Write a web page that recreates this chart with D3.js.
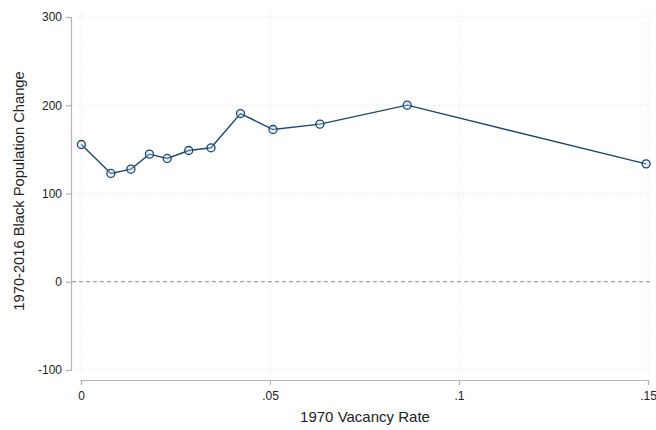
<!DOCTYPE html>
<html>
<head>
<meta charset="utf-8">
<script src="https://cdn.jsdelivr.net/npm/d3@7/dist/d3.min.js"></script>
<style>
  html, body { margin: 0; padding: 0; background: #fff; }
  svg { display: block; font-family: "Liberation Sans", Arial, sans-serif; }
</style>
</head>
<body>
<svg id="chart" width="656" height="430"></svg>
<script>
// Binned 1970 vacancy rate vs. 1970–2016 Black population change
const vacancyRate = [0.0001, 0.0079, 0.0132, 0.0181, 0.0228, 0.0285, 0.0344, 0.0422, 0.0508, 0.0632, 0.0863, 0.1495];
const popChange   = [155.5, 122.7, 127.6, 144.6, 139.7, 148.7, 151.8, 190.6, 172.5, 178.6, 200.1, 133.6];
const xTicks = [0, 0.05, 0.1, 0.15];
const xTickLabels = ["0", ".05", ".1", ".15"];
const yTicks = [-100, 0, 100, 200, 300];
const yTickLabels = ["-100", "0", "100", "200", "300"];

const svg = d3.select("#chart");
const navy = "#1a476f";
const axisGray = "#b4b4b4";

const x = d3.scaleLinear().domain([0, 0.15]).range([81, 648]);
const y = d3.scaleLinear().domain([-100, 300]).range([370, 17]);

// grid lines (dotted)
const grid = svg.append("g");
grid.selectAll("line.hy").data(yTicks.filter(d => d !== 0)).join("line")
  .attr("x1", 76).attr("x2", 652)
  .attr("y1", d => y(d)).attr("y2", d => y(d))
  .attr("stroke", "#e2e6ec").attr("stroke-width", 1).attr("stroke-dasharray", "1,2");
grid.selectAll("line.vx").data(xTicks).join("line")
  .attr("y1", 12).attr("y2", 375)
  .attr("x1", d => x(d)).attr("x2", d => x(d))
  .attr("stroke", "#e2e6ec").attr("stroke-width", 1).attr("stroke-dasharray", "1,2");

// reference line at zero
svg.append("line")
  .attr("x1", 72).attr("x2", 652)
  .attr("y1", y(0)).attr("y2", y(0))
  .attr("stroke", "#8c8c8c").attr("stroke-width", 1.2).attr("stroke-dasharray", "4,3");

// y axis
const yAxis = d3.axisLeft(y).tickValues(yTicks).tickSize(5).tickPadding(4)
  .tickFormat((d, i) => yTickLabels[i]);
const gy = svg.append("g").attr("transform", "translate(71,0)").call(yAxis);
gy.select(".domain").attr("stroke", axisGray).attr("stroke-width", 1.2);
gy.selectAll(".tick line").attr("stroke", axisGray).attr("stroke-width", 1.2);
gy.selectAll(".tick text").attr("fill", "#222").style("font-size", "12px")
  .style("font-family", "'Liberation Sans', Arial, sans-serif");

// x axis
const xAxis = d3.axisBottom(x).tickValues(xTicks).tickSize(5).tickPadding(6)
  .tickFormat((d, i) => xTickLabels[i]);
const gx = svg.append("g").attr("transform", "translate(0,380)").call(xAxis);
gx.select(".domain").attr("stroke", axisGray).attr("stroke-width", 1.2);
gx.selectAll(".tick line").attr("stroke", axisGray).attr("stroke-width", 1.2);
gx.selectAll(".tick text").attr("fill", "#222").style("font-size", "12px")
  .style("font-family", "'Liberation Sans', Arial, sans-serif");

// axis titles
svg.append("text")
  .attr("x", 365).attr("y", 422)
  .attr("text-anchor", "middle")
  .attr("fill", "#222").style("font-size", "15px")
  .text("1970 Vacancy Rate");
svg.append("text")
  .attr("transform", "translate(24,191) rotate(-90)")
  .attr("text-anchor", "middle")
  .attr("fill", "#222").style("font-size", "14.7px")
  .text("1970-2016 Black Population Change");

// connected series
const pts = vacancyRate.map((v, i) => ({ x: v, y: popChange[i] }));
svg.append("path")
  .datum(pts)
  .attr("fill", "none")
  .attr("stroke", navy)
  .attr("stroke-width", 1.4)
  .attr("d", d3.line().x(d => x(d.x)).y(d => y(d.y)));

// hollow circle markers
svg.selectAll("circle.pt").data(pts).join("circle")
  .attr("cx", d => x(d.x)).attr("cy", d => y(d.y))
  .attr("r", 4)
  .attr("fill", "#c9d8e6")
  .attr("fill-opacity", 0.35)
  .attr("stroke", navy)
  .attr("stroke-width", 1.3);
</script>
</body>
</html>
